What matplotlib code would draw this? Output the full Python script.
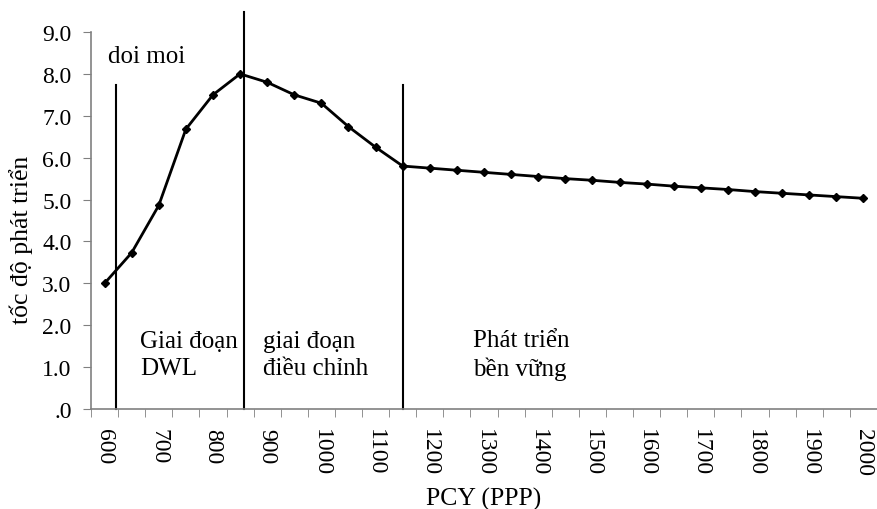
import numpy as np
import matplotlib
matplotlib.use('Agg')
import matplotlib.pyplot as plt
from matplotlib.ticker import FuncFormatter, MultipleLocator

pcy = list(range(600, 2001, 50))
growth = [3.0, 3.73, 4.86, 6.68, 7.5, 8.0, 7.8, 7.5, 7.3, 6.74, 6.25, 5.8,
          5.75, 5.70, 5.65, 5.60, 5.55, 5.50, 5.46, 5.41, 5.37, 5.32, 5.28,
          5.24, 5.19, 5.15, 5.11, 5.07, 5.03]
tick_labels = list(range(600, 2001, 100))
phase_x = [621, 858, 1150]
phase_top = [7.73, 9.48, 7.73]

plt.rcParams['font.family'] = ['Liberation Serif', 'DejaVu Serif']
plt.rcParams['font.size'] = 17

fig = plt.figure(figsize=(8.77, 5.10), dpi=100)
ax = fig.add_axes([91 / 877, 100 / 510, 786 / 877, 377 / 510])

ax.plot(pcy, growth, color='black', lw=2, marker='D', ms=4.5, zorder=3)

for x, top in zip(phase_x, phase_top):
    ax.plot([x, x], [0, top], color='black', lw=1.5, clip_on=False)

ax.set_xlim(575, 2025)
ax.set_ylim(0, 9)

ax.set_xticks(tick_labels)
ax.set_xticklabels([str(t) for t in tick_labels], rotation=-90)
ax.tick_params(axis='x', which='major', length=0, pad=14)
ax.set_xticks(np.arange(575, 2026, 50), minor=True)
ax.tick_params(axis='x', which='minor', length=6, color='#808080', direction='out')

ax.yaxis.set_major_locator(MultipleLocator(1))
ax.yaxis.set_major_formatter(FuncFormatter(lambda v, p: '.0' if v == 0 else '%.1f' % v))
ax.tick_params(axis='y', length=6, color='#808080', direction='out', pad=8)

for s in ['top', 'right']:
    ax.spines[s].set_visible(False)
for s in ['left', 'bottom']:
    ax.spines[s].set_color('#808080')
    ax.spines[s].set_linewidth(1.2)

ax.set_ylabel('tốc độ phát triển', fontsize=18.5)
ax.yaxis.set_label_coords(-58 / 786, 0.45)
ax.set_xlabel('PCY (PPP)', fontsize=18.5, labelpad=8)

ax.text(606, 8.43, 'doi moi', fontsize=18, va='center')
ax.text(665, 1.3, 'Giai đoạn\nDWL', fontsize=18, va='center', linespacing=1.3)
ax.text(892, 1.3, 'giai đoạn\nđiều chỉnh', fontsize=18, va='center', linespacing=1.3)
ax.text(1280, 1.3, 'Phát triển\nbền vững', fontsize=18, va='center', linespacing=1.3)

fig.savefig('out.png', dpi=100)
